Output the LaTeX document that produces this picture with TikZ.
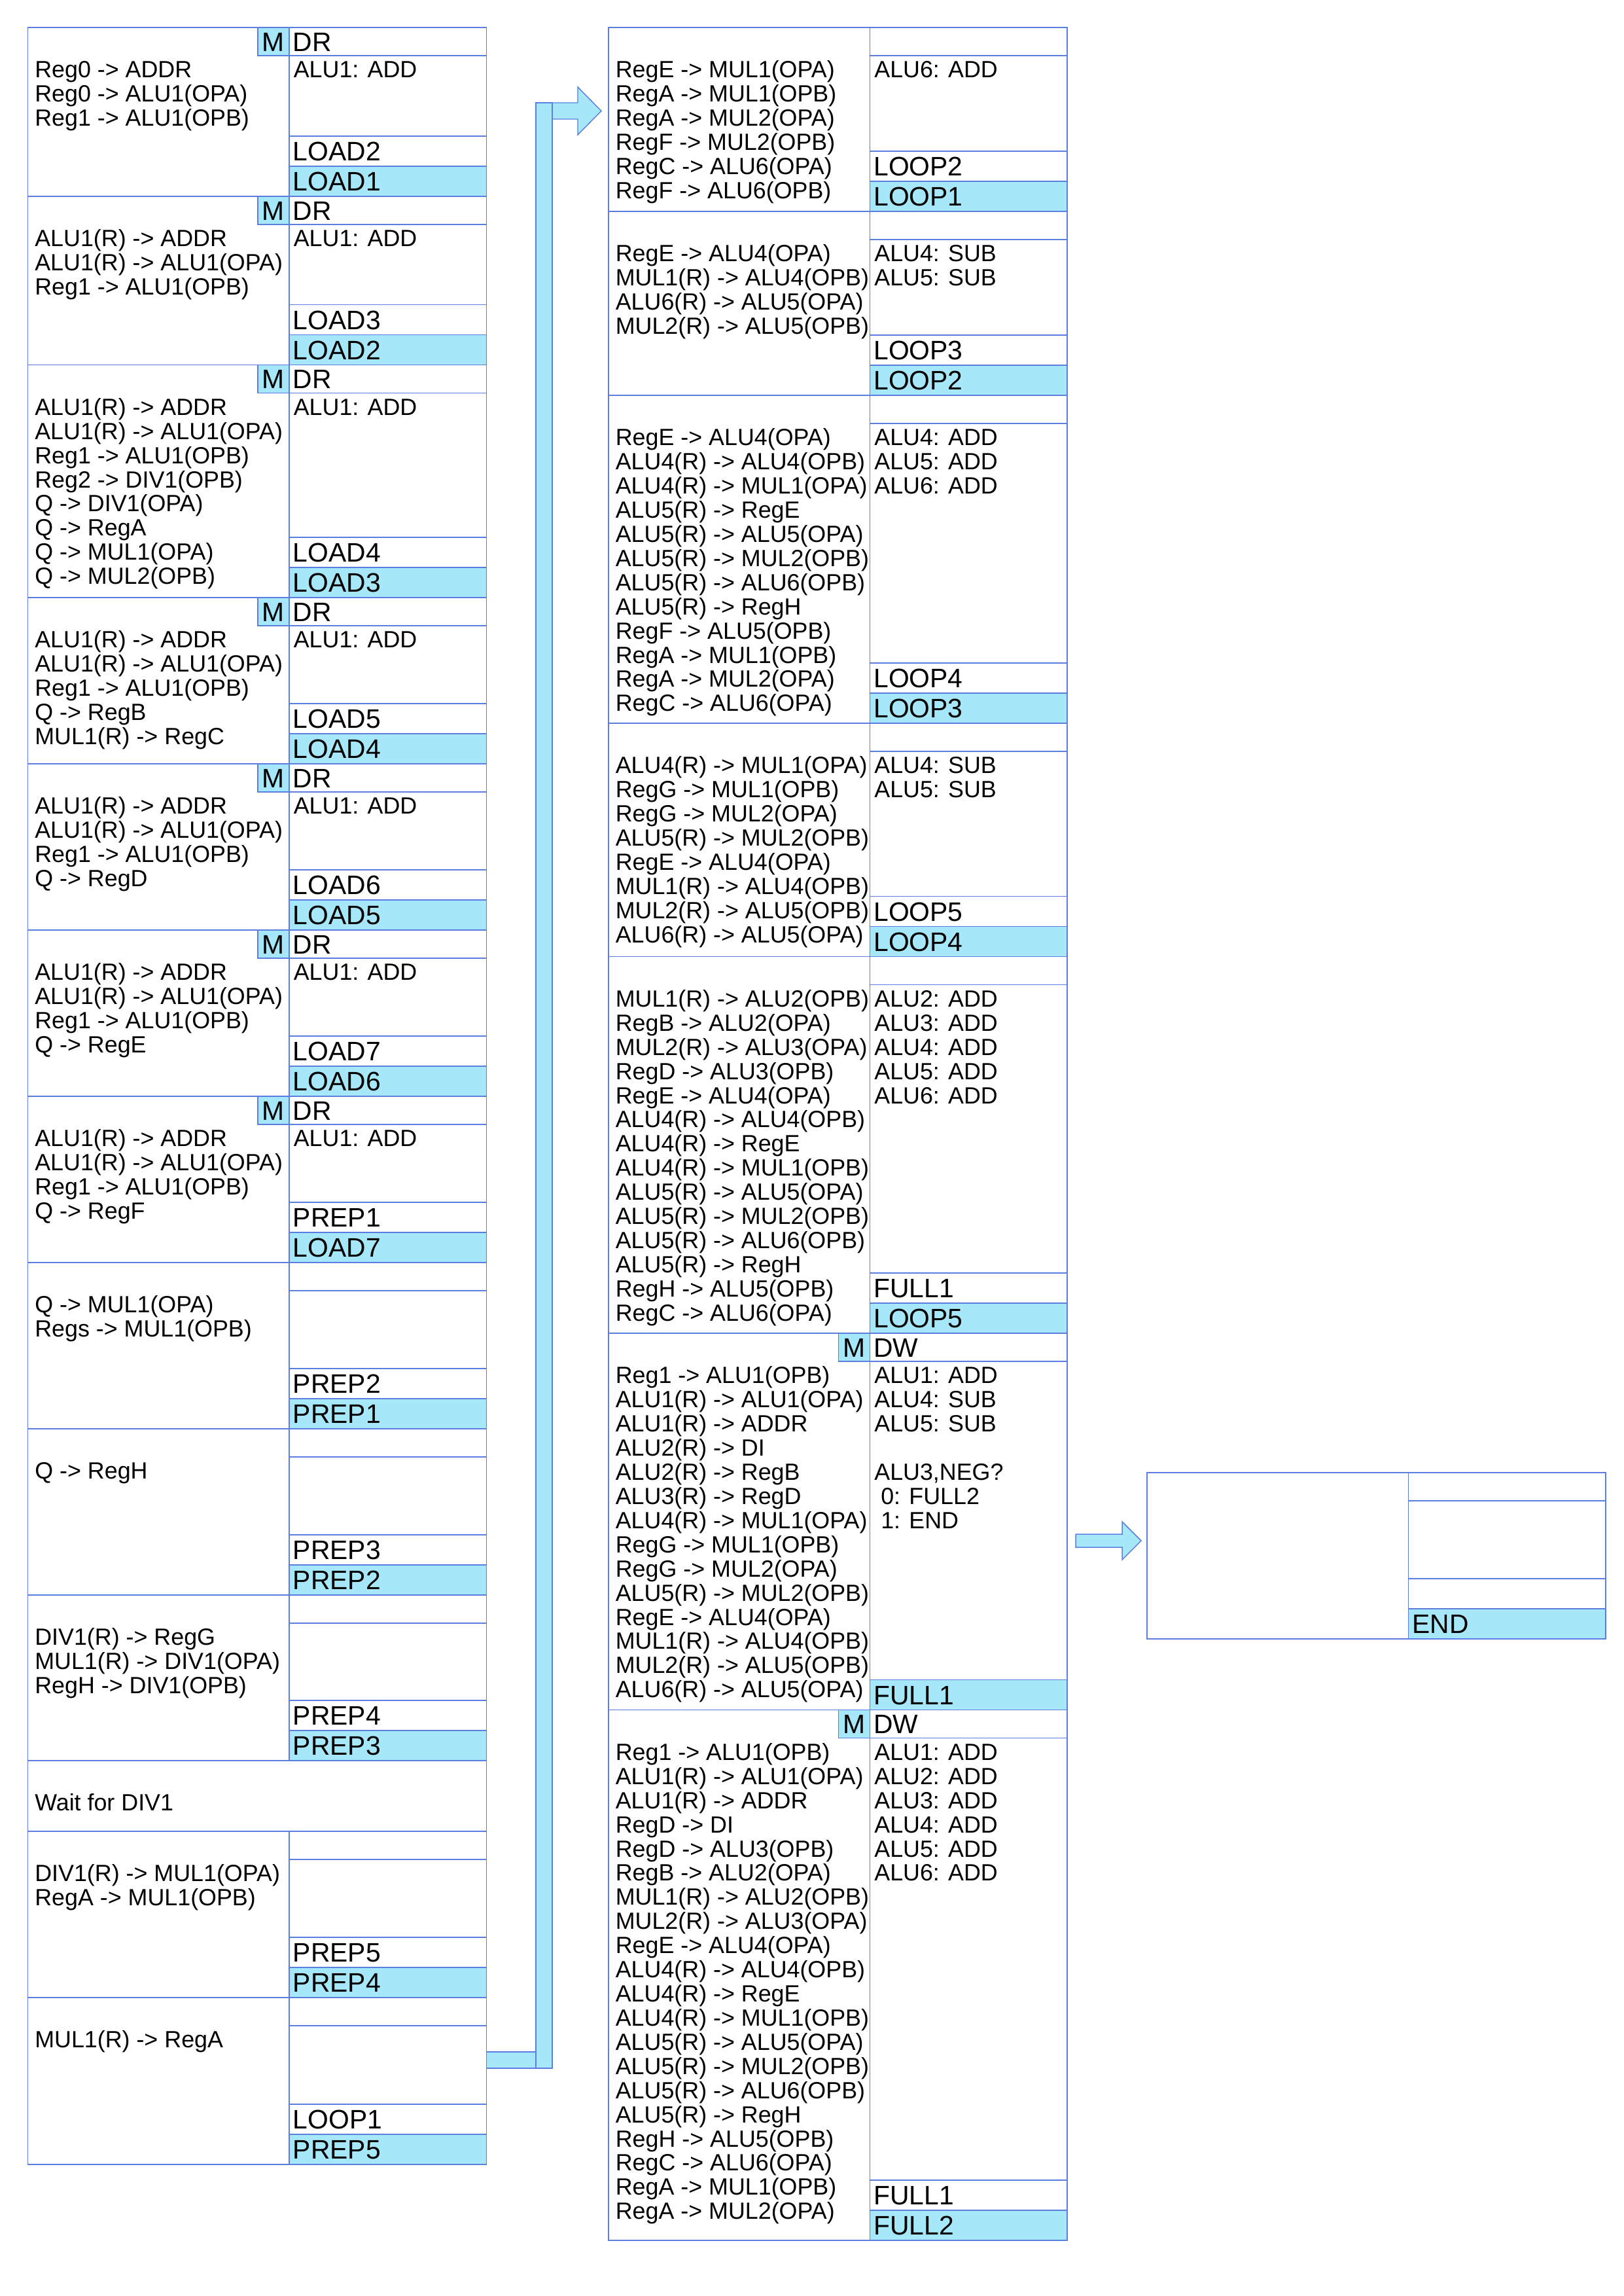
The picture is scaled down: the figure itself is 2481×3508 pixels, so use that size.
\documentclass[tikz,border=0pt]{standalone}
\usepackage{fontspec}
\setmainfont{Liberation Sans}
\definecolor{edgeblue}{HTML}{5B7FE0}
\definecolor{cyanfill}{HTML}{A6E8FA}
\newcommand\tstrut{\rule{0pt}{7pt}}
\tikzset{
  bline/.style={draw=edgeblue, line width=0.35pt},
  lbl/.style={font=\fontsize{9.8}{10.5}\selectfont, inner sep=0pt, anchor=base west},
  txt/.style={font=\fontsize{8.6}{8.86}\selectfont, inner sep=0pt, anchor=north west, align=left},
  barrow/.style={fill=cyanfill, draw=edgeblue, line width=0.35pt, line join=miter}
}
% #1 name, #2 x0, #3 ytop, #4 ybot, #5 top label (M box if nonempty), #6 row3 label (no row if empty), #7 row4 label, #8 left text, #9 right text
\newcommand\stblock[9]{%
  \pgfmathsetmacro\xd{#2+399.5}%
  \pgfmathsetmacro\xr{#2+701}%
  \pgfmathsetmacro\ya{#3+43}%
  \pgfmathsetmacro\yb{#4-92}%
  \pgfmathsetmacro\yc{#4-46}%
  \fill[cyanfill] (\xd,\yc) rectangle (\xr,#4);
  \draw[bline] (#2,#3) rectangle (\xr,#4);
  \draw[bline] (\xd,#3) -- (\xd,#4);
  \draw[bline] (\xd,\ya) -- (\xr,\ya);
  \draw[bline] (\xd,\yc) -- (\xr,\yc);
  \if\relax\detokenize{#6}\relax\else
    \draw[bline] (\xd,\yb) -- (\xr,\yb);
    \node[lbl] (#1rthree) at (\xd+5,{(\yb+\yc)/2+14.6}) {#6};
  \fi
  \node[lbl] (#1rfour) at (\xd+5,{(\yc+#4)/2+14.6}) {#7};
  \if\relax\detokenize{#5}\relax\else
    \filldraw[fill=cyanfill, bline] (\xd-48,#3) rectangle (\xd,\ya);
    \node[lbl, anchor=base] (#1m) at (\xd-24,{(#3+\ya)/2+14.6}) {M};
    \node[lbl] (#1top) at (\xd+5,{(#3+\ya)/2+14.6}) {#5};
  \fi
  \node[txt] (#1ops) at (#2+10,#3+76-29.17) {\tstrut#8};
  \if\relax\detokenize{#9}\relax\else
    \node[txt] (#1alu) at (\xd+6,#3+76-29.17) {\tstrut#9};
  \fi
}
\begin{document}
\begin{tikzpicture}[x=0.24pt, y=-0.24pt]
\useasboundingbox (0,0) rectangle (2481,3508);
\fill[white] (0,0) rectangle (2481,3508);

% ---------------- left column ----------------
\stblock{ba}{42.5}{42}{300}{DR}{LOAD2}{LOAD1}
  {Reg0 -> ADDR\\Reg0 -> ALU1(OPA)\\Reg1 -> ALU1(OPB)}{ALU1: ADD}
\stblock{bb}{42.5}{300}{557.5}{DR}{LOAD3}{LOAD2}
  {ALU1(R) -> ADDR\\ALU1(R) -> ALU1(OPA)\\Reg1 -> ALU1(OPB)}{ALU1: ADD}
\stblock{bc}{42.5}{557.5}{913}{DR}{LOAD4}{LOAD3}
  {ALU1(R) -> ADDR\\ALU1(R) -> ALU1(OPA)\\Reg1 -> ALU1(OPB)\\Reg2 -> DIV1(OPB)\\Q -> DIV1(OPA)\\Q -> RegA\\Q -> MUL1(OPA)\\Q -> MUL2(OPB)}{ALU1: ADD}
\stblock{bd}{42.5}{913}{1167}{DR}{LOAD5}{LOAD4}
  {ALU1(R) -> ADDR\\ALU1(R) -> ALU1(OPA)\\Reg1 -> ALU1(OPB)\\Q -> RegB\\MUL1(R) -> RegC}{ALU1: ADD}
\stblock{be}{42.5}{1167}{1421}{DR}{LOAD6}{LOAD5}
  {ALU1(R) -> ADDR\\ALU1(R) -> ALU1(OPA)\\Reg1 -> ALU1(OPB)\\Q -> RegD}{ALU1: ADD}
\stblock{bf}{42.5}{1421}{1675}{DR}{LOAD7}{LOAD6}
  {ALU1(R) -> ADDR\\ALU1(R) -> ALU1(OPA)\\Reg1 -> ALU1(OPB)\\Q -> RegE}{ALU1: ADD}
\stblock{bg}{42.5}{1675}{1929}{DR}{PREP1}{LOAD7}
  {ALU1(R) -> ADDR\\ALU1(R) -> ALU1(OPA)\\Reg1 -> ALU1(OPB)\\Q -> RegF}{ALU1: ADD}
\stblock{bh}{42.5}{1929}{2183}{}{PREP2}{PREP1}
  {Q -> MUL1(OPA)\\Regs -> MUL1(OPB)}{}
\stblock{bi}{42.5}{2183}{2437}{}{PREP3}{PREP2}
  {Q -> RegH}{}
\stblock{bj}{42.5}{2437}{2690}{}{PREP4}{PREP3}
  {DIV1(R) -> RegG\\MUL1(R) -> DIV1(OPA)\\RegH -> DIV1(OPB)}{}
\draw[bline] (42.5,2690) rectangle (743.5,2798);
\node[txt] (waitops) at (52.5,2690+76-29.17) {\tstrut Wait for DIV1};
\stblock{bk}{42.5}{2798}{3052}{}{PREP5}{PREP4}
  {DIV1(R) -> MUL1(OPA)\\RegA -> MUL1(OPB)}{}
\stblock{bl}{42.5}{3052}{3307}{}{LOOP1}{PREP5}
  {MUL1(R) -> RegA}{}

% ---------------- middle column ----------------
\stblock{la}{930}{42}{323}{}{LOOP2}{LOOP1}
  {RegE -> MUL1(OPA)\\RegA -> MUL1(OPB)\\RegA -> MUL2(OPA)\\RegF -> MUL2(OPB)\\RegC -> ALU6(OPA)\\RegF -> ALU6(OPB)}{ALU6: ADD}
\stblock{lb}{930}{323}{604}{}{LOOP3}{LOOP2}
  {RegE -> ALU4(OPA)\\MUL1(R) -> ALU4(OPB)\\ALU6(R) -> ALU5(OPA)\\MUL2(R) -> ALU5(OPB)}{ALU4: SUB\\ALU5: SUB}
\stblock{lc}{930}{604}{1105}{}{LOOP4}{LOOP3}
  {RegE -> ALU4(OPA)\\ALU4(R) -> ALU4(OPB)\\ALU4(R) -> MUL1(OPA)\\ALU5(R) -> RegE\\ALU5(R) -> ALU5(OPA)\\ALU5(R) -> MUL2(OPB)\\ALU5(R) -> ALU6(OPB)\\ALU5(R) -> RegH\\RegF -> ALU5(OPB)\\RegA -> MUL1(OPB)\\RegA -> MUL2(OPA)\\RegC -> ALU6(OPA)}{ALU4: ADD\\ALU5: ADD\\ALU6: ADD}
\stblock{ld}{930}{1105}{1461.5}{}{LOOP5}{LOOP4}
  {ALU4(R) -> MUL1(OPA)\\RegG -> MUL1(OPB)\\RegG -> MUL2(OPA)\\ALU5(R) -> MUL2(OPB)\\RegE -> ALU4(OPA)\\MUL1(R) -> ALU4(OPB)\\MUL2(R) -> ALU5(OPB)\\ALU6(R) -> ALU5(OPA)}{ALU4: SUB\\ALU5: SUB}
\stblock{le}{930}{1461.5}{2037}{}{FULL1}{LOOP5}
  {MUL1(R) -> ALU2(OPB)\\RegB -> ALU2(OPA)\\MUL2(R) -> ALU3(OPA)\\RegD -> ALU3(OPB)\\RegE -> ALU4(OPA)\\ALU4(R) -> ALU4(OPB)\\ALU4(R) -> RegE\\ALU4(R) -> MUL1(OPB)\\ALU5(R) -> ALU5(OPA)\\ALU5(R) -> MUL2(OPB)\\ALU5(R) -> ALU6(OPB)\\ALU5(R) -> RegH\\RegH -> ALU5(OPB)\\RegC -> ALU6(OPA)}{ALU2: ADD\\ALU3: ADD\\ALU4: ADD\\ALU5: ADD\\ALU6: ADD}
\stblock{fa}{930}{2037}{2612.5}{DW}{}{FULL1}
  {Reg1 -> ALU1(OPB)\\ALU1(R) -> ALU1(OPA)\\ALU1(R) -> ADDR\\ALU2(R) -> DI\\ALU2(R) -> RegB\\ALU3(R) -> RegD\\ALU4(R) -> MUL1(OPA)\\RegG -> MUL1(OPB)\\RegG -> MUL2(OPA)\\ALU5(R) -> MUL2(OPB)\\RegE -> ALU4(OPA)\\MUL1(R) -> ALU4(OPB)\\MUL2(R) -> ALU5(OPB)\\ALU6(R) -> ALU5(OPA)}{ALU1: ADD\\ALU4: SUB\\ALU5: SUB\\\mbox{}\\ALU3,NEG?\\\ 0: FULL2\\\ 1: END}
\stblock{fb}{930}{2612.5}{3423}{DW}{FULL1}{FULL2}
  {Reg1 -> ALU1(OPB)\\ALU1(R) -> ALU1(OPA)\\ALU1(R) -> ADDR\\RegD -> DI\\RegD -> ALU3(OPB)\\RegB -> ALU2(OPA)\\MUL1(R) -> ALU2(OPB)\\MUL2(R) -> ALU3(OPA)\\RegE -> ALU4(OPA)\\ALU4(R) -> ALU4(OPB)\\ALU4(R) -> RegE\\ALU4(R) -> MUL1(OPB)\\ALU5(R) -> ALU5(OPA)\\ALU5(R) -> MUL2(OPB)\\ALU5(R) -> ALU6(OPB)\\ALU5(R) -> RegH\\RegH -> ALU5(OPB)\\RegC -> ALU6(OPA)\\RegA -> MUL1(OPB)\\RegA -> MUL2(OPA)}{ALU1: ADD\\ALU2: ADD\\ALU3: ADD\\ALU4: ADD\\ALU5: ADD\\ALU6: ADD}

% ---------------- END box ----------------
\stblock{en}{1753}{2250}{2504}{}{~}{END}{}{}

% ---------------- block arrows ----------------
\filldraw[barrow] (819,157) -- (883,157) -- (883,133) -- (919,169.5) -- (883,206) -- (883,182) -- (819,182) -- cycle;
\filldraw[barrow] (743.5,3135) rectangle (819,3160);
\filldraw[barrow] (819,157) rectangle (844,3160);
\filldraw[barrow] (1644,2344) -- (1715,2344) -- (1715,2325) -- (1744,2354) -- (1715,2383) -- (1715,2364) -- (1644,2364) -- cycle;
\end{tikzpicture}
\end{document}
